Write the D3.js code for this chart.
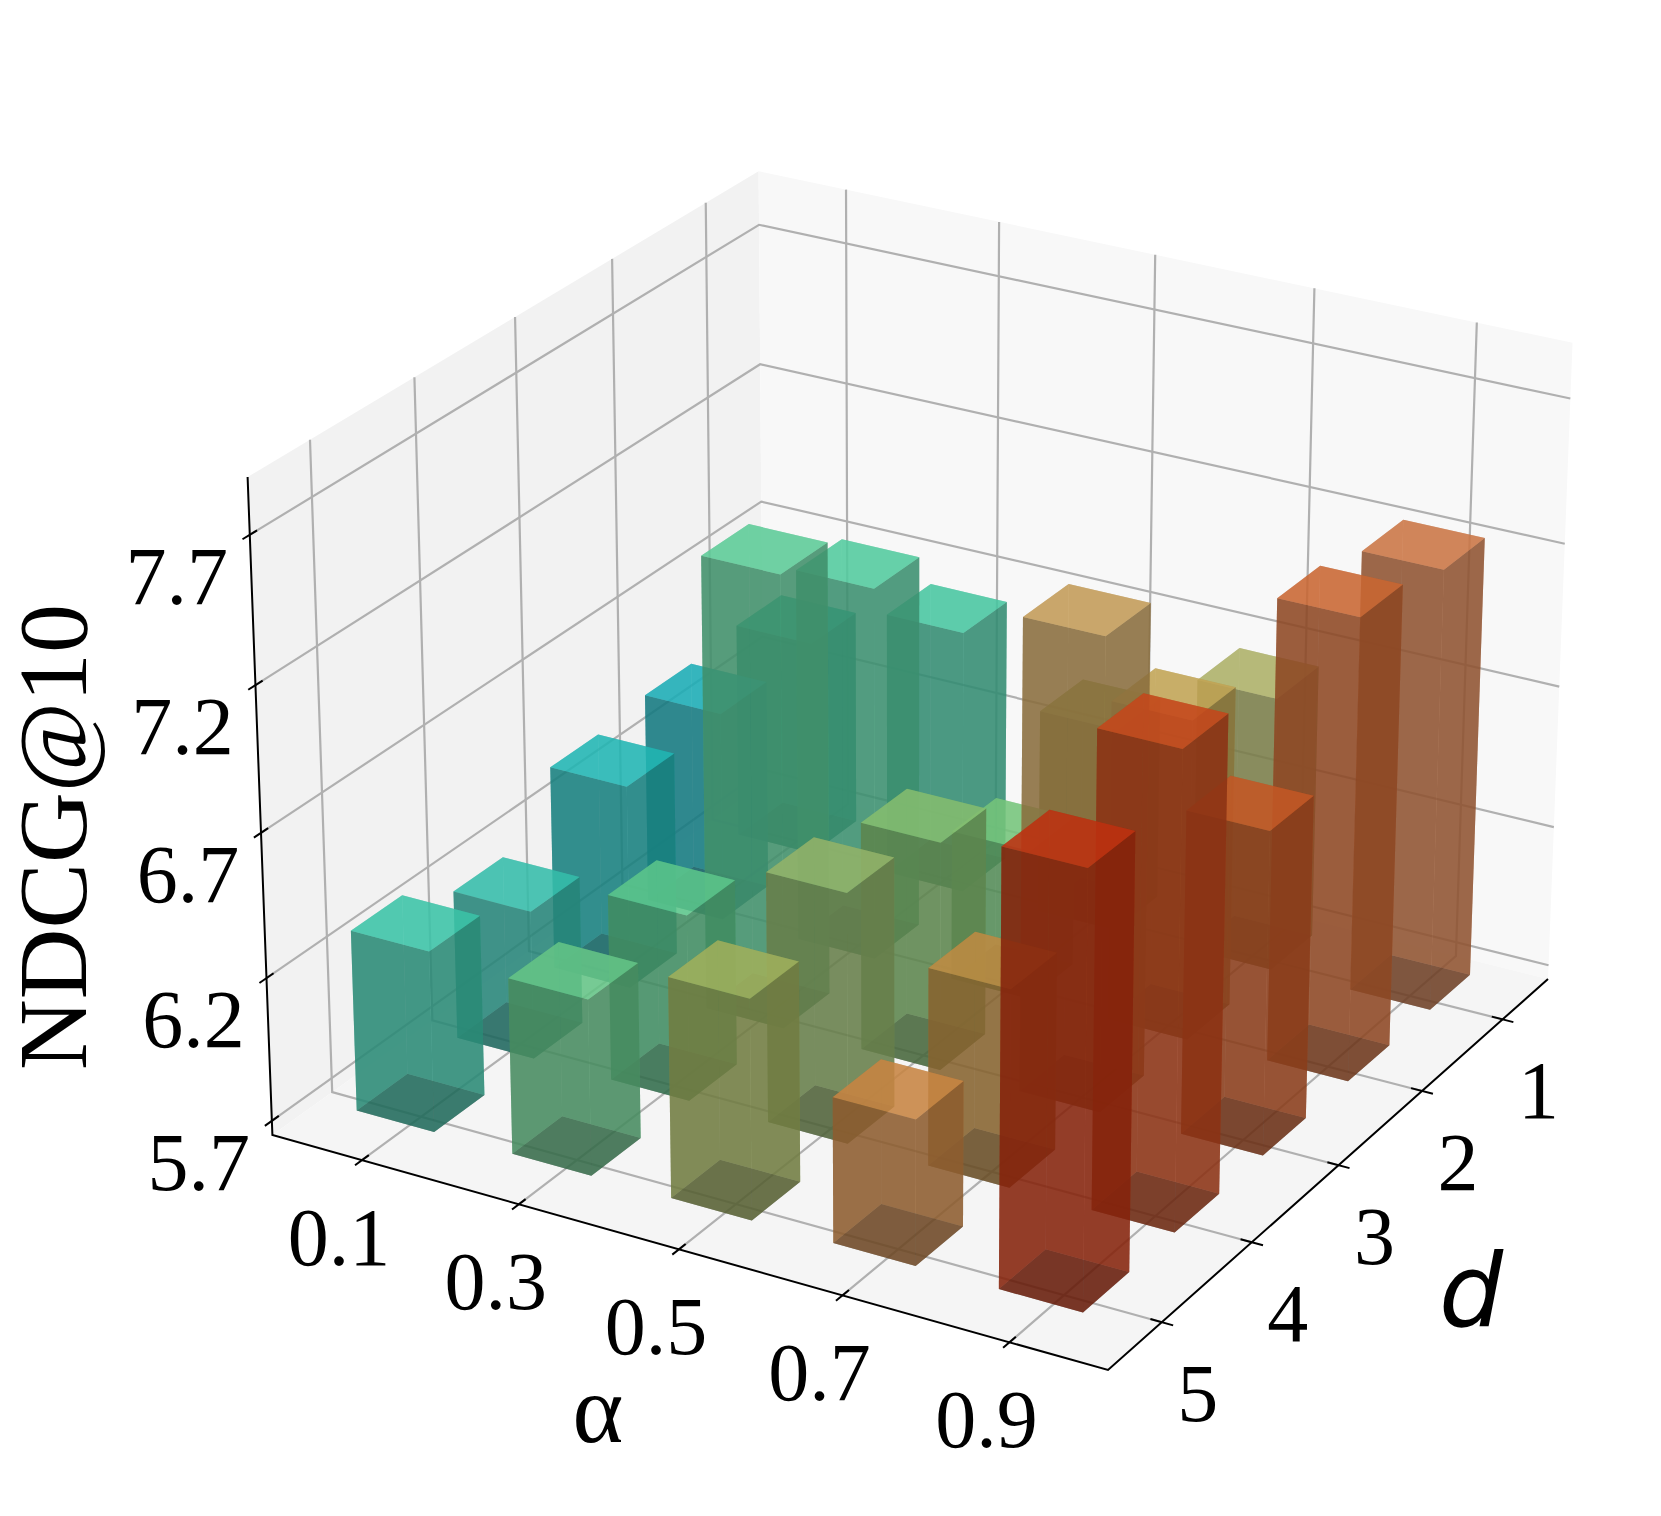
<!DOCTYPE html>
<html><head><meta charset="utf-8">
<script src="https://cdn.jsdelivr.net/npm/d3@7/dist/d3.min.js"></script>
<style>html,body{margin:0;padding:0;background:#fff}svg{display:block}</style>
</head><body><div id="chart"></div>
<script>
// ---- data ----
const alphaLabels = ["0.1","0.3","0.5","0.7","0.9"];
const dLabels = ["1","2","3","4","5"];
const zTicks = [5.7,6.2,6.7,7.2,7.7];
const valuesD1 = [6.47,6.64,6.425,6.67,7.25];
const valuesD2 = [6.445,7.02,6.23,6.825,7.31];
const valuesD3 = [6.42,7.29,6.50,7.34,6.82];
const valuesD4 = [6.22,6.35,6.57,6.385,7.33];
const valuesD5 = [6.33,6.31,6.46,6.20,7.18];
const topsD1 = ["#38BFA8","#5CCCAB","#93A95E","#B5B878","#D0855A"];
const topsD2 = ["#36B5BD","#66D0A8","#85CB8A","#C8AE68","#CE774A"];
const topsD3 = ["#3BBDBB","#6ED0A2","#92C47F","#C9A66A","#C96A3E"];
const topsD4 = ["#4DC3B3","#6ECC97","#9EBB7A","#C59858","#CB5C36"];
const topsD5 = ["#52C9B0","#76CA94","#AAB86F","#CD9258","#C4492C"];
const values = [valuesD1,valuesD2,valuesD3,valuesD4,valuesD5];
const tops = [topsD1,topsD2,topsD3,topsD4,topsD5];

// ---- view: image of the axes box (pixels) ----
const O=[272.4,1135], A=[1108,1370], C=[1548,979], B=[763.5,783], T=[247.6,477], kP=-0.038;
const sx=O[0]-A[0]+C[0]-B[0], sy=O[1]-A[1]+C[1]-B[1];
const dx1=A[0]-C[0], dx2=B[0]-C[0], dy1=A[1]-C[1], dy2=B[1]-C[1];
const det=dx1*dy2-dx2*dy1, gP=(sx*dy2-dx2*sy)/det, hP=(dx1*sy-sx*dy1)/det;
function proj(u,v,w){
  const d=1+gP*u+hP*v+kP*w;
  const f=i=>(O[i]+u*((1+gP)*A[i]-O[i])+v*((1+hP)*B[i]-O[i])+w*((1+kP)*T[i]-O[i]))/d;
  return [f(0),f(1),d];
}
const xS=d3.scaleLinear().domain([-0.58,4.58]).range([0,1]);   // alpha index
const yS=d3.scaleLinear().domain([-0.58,4.58]).range([0,1]);   // 5-d index, front to back
const zS=d3.scaleLinear().domain([5.65,7.89]).range([0,1]);
const halfBar=0.25;

const svg=d3.select("#chart").append("svg").attr("width",1661).attr("height",1516);
const line=d3.line();
const pts=a=>a.map(p=>proj(...p).slice(0,2));
const poly=a=>line(pts(a))+"Z";

// panes
const g0=svg.append("g");
g0.append("path").attr("d",poly([[0,0,0],[0,1,0],[0,1,1],[0,0,1]])).attr("fill","#f2f2f2");
g0.append("path").attr("d",poly([[0,1,0],[1,1,0],[1,1,1],[0,1,1]])).attr("fill","#f8f8f8");
g0.append("path").attr("d",poly([[0,0,0],[1,0,0],[1,1,0],[0,1,0]])).attr("fill","#f5f5f5");

// grid
const grid=svg.append("g").attr("fill","none").attr("stroke","#b0b0b0").attr("stroke-width",2.2);
alphaLabels.forEach((_,i)=>{const u=xS(i);
  grid.append("path").attr("d",line(pts([[u,0,0],[u,1,0],[u,1,1]])));});
dLabels.forEach((_,j)=>{const v=yS(j);
  grid.append("path").attr("d",line(pts([[1,v,0],[0,v,0],[0,v,1]])));});
zTicks.forEach(z=>{const w=zS(z);
  grid.append("path").attr("d",line(pts([[0,0,w],[0,1,w],[1,1,w]])));});

// axis lines & ticks
const ax=svg.append("g").attr("fill","none").attr("stroke","#000").attr("stroke-width",2);
ax.append("path").attr("d",line(pts([[0,0,1],[0,0,0],[1,0,0],[1,1,0]])));
const tk=0.013;
alphaLabels.forEach((_,i)=>{const u=xS(i);
  ax.append("path").attr("d",line(pts([[u,-tk,0],[u,tk,0]])));});
dLabels.forEach((_,j)=>{const v=yS(j);
  ax.append("path").attr("d",line(pts([[1-tk,v,0],[1+tk,v,0]])));});
zTicks.forEach(z=>{const w=zS(z);
  ax.append("path").attr("d",line(pts([[0,-tk,w],[0,tk,w]])));});

// bars: every face sorted individually by depth
const alphaF=0.65, shade={top:1,rear:0.85,near:0.62,bottom:0.25};
const faces=[];
values.forEach((row,r)=>{ const j=4-r;   // d=5 is the front row
  row.forEach((val,i)=>{
    const u0=xS(i-halfBar),u1=xS(i+halfBar),v0=yS(j-halfBar),v1=yS(j+halfBar),w0=zS(5.7),w1=zS(val);
    const c=d3.rgb(tops[r][i]);
    const base=[c.r,c.g,c.b].map(x=>(x-30)/0.843);
    const add=(vs,s)=>{
      const dep=d3.mean(vs,p=>proj(...p)[2]);
      faces.push({d:poly(vs),dep,fill:d3.rgb(base[0]*s,base[1]*s,base[2]*s).formatHex()});
    };
    add([[u0,v0,w0],[u1,v0,w0],[u1,v1,w0],[u0,v1,w0]],shade.bottom);
    add([[u0,v1,w0],[u1,v1,w0],[u1,v1,w1],[u0,v1,w1]],shade.rear);
    add([[u0,v0,w0],[u0,v1,w0],[u0,v1,w1],[u0,v0,w1]],shade.rear);
    add([[u0,v0,w0],[u1,v0,w0],[u1,v0,w1],[u0,v0,w1]],shade.near);
    add([[u1,v0,w0],[u1,v1,w0],[u1,v1,w1],[u1,v0,w1]],shade.near);
    add([[u0,v0,w1],[u1,v0,w1],[u1,v1,w1],[u0,v1,w1]],shade.top);
  });
});
faces.sort((a,b)=>b.dep-a.dep);
svg.append("g").selectAll("path").data(faces).join("path")
  .attr("d",f=>f.d).attr("fill",f=>f.fill).attr("fill-opacity",alphaF);

// text
const serif="'Liberation Serif','Times New Roman',serif";
const txt=svg.append("g").attr("font-family",serif).attr("fill","#000").attr("text-anchor","middle");
alphaLabels.forEach((t,i)=>{const p=proj(xS(i),0,0);
  txt.append("text").attr("x",p[0]-23).attr("y",p[1]+76).attr("dy","0.35em").attr("font-size",82).text(t);});
dLabels.forEach((t,j)=>{const p=proj(1,yS(4-j),0);
  txt.append("text").attr("x",p[0]+36).attr("y",p[1]+70).attr("dy","0.35em").attr("font-size",82).text(t);});
zTicks.forEach(z=>{const p=proj(0,0,zS(z));
  txt.append("text").attr("x",p[0]-73).attr("y",p[1]+40).attr("dy","0.35em").attr("font-size",82).text(z.toFixed(1));});
txt.append("text").attr("x",598).attr("y",1408).attr("dy","0.35em").attr("font-size",97).text("α");
txt.append("text").attr("x",1471).attr("y",1291).attr("dy","0.35em").attr("font-size",101)
  .attr("font-family","'DejaVu Sans',sans-serif").attr("font-style","italic").text("d");
txt.append("text").attr("transform","translate(52,837) rotate(-90)").attr("dy","0.35em").attr("font-size",98).text("NDCG@10");
</script></body></html>
